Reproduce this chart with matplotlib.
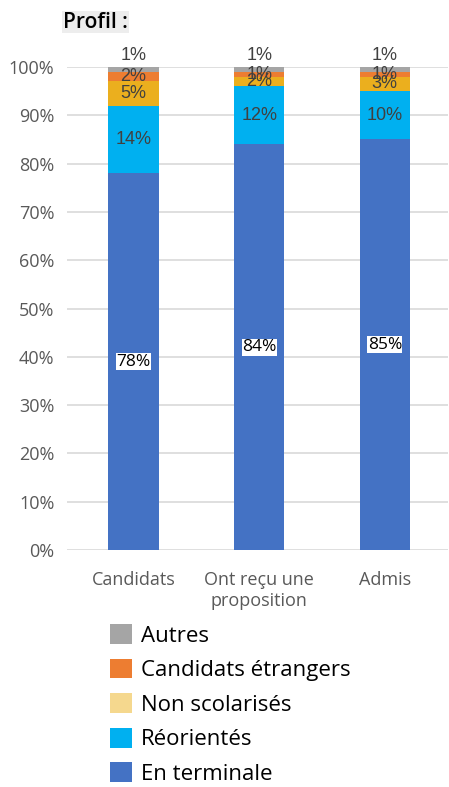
import matplotlib
matplotlib.use("Agg")
import matplotlib.pyplot as plt
from matplotlib.patches import Patch

categories = ["Candidats", "Ont reçu une\nproposition", "Admis"]
series_names = ["En terminale", "Réorientés", "Non scolarisés", "Candidats étrangers", "Autres"]
en_terminale = [78, 84, 85]
reorientes = [14, 12, 10]
non_scolarises = [5, 2, 3]
etrangers = [2, 1, 1]
autres = [1, 1, 1]
yticks = [0, 10, 20, 30, 40, 50, 60, 70, 80, 90, 100]

series = [en_terminale, reorientes, non_scolarises, etrangers, autres]
bar_colors = ["#4472C4", "#00B0F0", "#EBAF1E", "#ED7D31", "#A5A5A5"]
legend_colors = ["#4472C4", "#00B0F0", "#F5D88E", "#ED7D31", "#A5A5A5"]

plt.rcParams['font.family'] = ['Open Sans', 'DejaVu Sans']
label_font = ['Liberation Sans', 'DejaVu Sans']

fig = plt.figure(figsize=(4.49, 7.87), dpi=100)
ax = fig.add_axes([0.149, 0.301, 0.848, 0.614])

x = list(range(len(categories)))
bottoms = [0.0] * len(categories)
for si, (vals, col) in enumerate(zip(series, bar_colors)):
    ax.bar(x, vals, bottom=bottoms, width=0.4, color=col, zorder=3)
    for i, v in enumerate(vals):
        lab = f"{v}%"
        if si == 0:
            ax.text(x[i], bottoms[i] + v / 2, lab, ha="center", va="center",
                    fontsize=12.5, color="black", zorder=5,
                    bbox=dict(facecolor="white", edgecolor="none", pad=0.3))
        elif si == len(series) - 1:
            ax.text(x[i], bottoms[i] + v + 0.5, lab, ha="center", va="bottom",
                    fontsize=13, color="#404040", zorder=5, family=label_font)
        else:
            ax.text(x[i], bottoms[i] + v / 2, lab, ha="center", va="center",
                    fontsize=13, color="#404040", zorder=5, family=label_font)
    bottoms = [b + v for b, v in zip(bottoms, vals)]

ax.set_xlim(-0.53, 2.5)
ax.set_ylim(0, 100)
ax.set_yticks(yticks)
ax.set_yticklabels([f"{t}%" for t in yticks], fontsize=13, color="#595959")
ax.set_xticks(x)
ax.set_xticklabels(categories, fontsize=13, color="#595959", linespacing=1.25)
ax.tick_params(axis="both", length=0)
ax.tick_params(axis="y", pad=9)
ax.tick_params(axis="x", pad=15)
ax.grid(axis="y", color="#D9D9D9", linewidth=1.2, zorder=0)
for s in ax.spines.values():
    s.set_visible(False)

fig.text(63 / 449, 1 - 22 / 787, "Profil :", fontsize=15, color="black",
         ha="left", va="center", fontweight="semibold",
         bbox=dict(facecolor="#EDEDED", edgecolor="none", pad=0.5))

handles = [Patch(facecolor=c, edgecolor="none") for c in legend_colors][::-1]
labels = series_names[::-1]
fig.legend(handles, labels, loc="upper left", bbox_to_anchor=(110 / 449, 1 - 624 / 787),
           frameon=False, fontsize=16, handlelength=1.0, handleheight=1.0,
           handletextpad=0.4, labelspacing=0.54, borderaxespad=0, borderpad=0)

fig.savefig("out.png", dpi=100)
